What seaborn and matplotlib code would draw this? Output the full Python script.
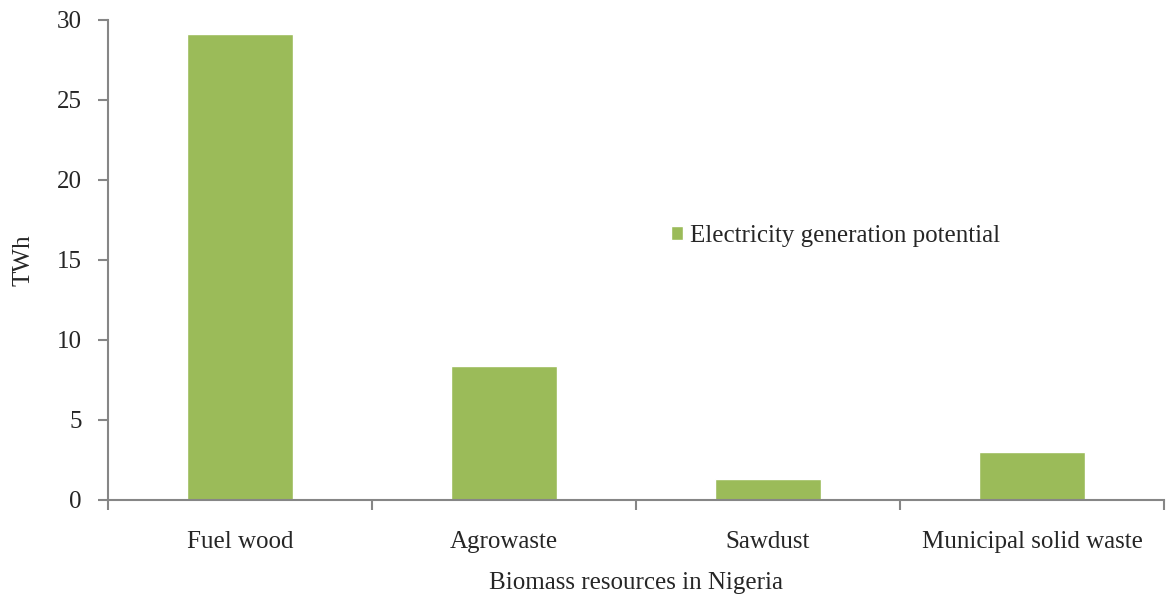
import pandas as pd
import seaborn as sns
import matplotlib.pyplot as plt
from matplotlib.ticker import FixedLocator

# Data
resources = ["Fuel wood", "Agrowaste", "Sawdust", "Municipal solid waste"]
potential_twh = [29.1, 8.4, 1.3, 3.0]
series_name = "Electricity generation potential"

df = pd.DataFrame({"Resource": resources, "TWh": potential_twh, "Series": series_name})

sns.set_style("white")
plt.rcParams["font.family"] = ["Liberation Serif", "DejaVu Serif"]

axis_grey = "#868686"
bar_green = "#9BBB59"
fs = 18

fig = plt.figure(figsize=(11.66, 5.98), dpi=100)
ax = fig.add_axes([108 / 1166, 98 / 598, 1056 / 1166, 480 / 598])

sns.barplot(data=df, x="Resource", y="TWh", hue="Series", palette=[bar_green],
            width=0.4, saturation=1, ax=ax)

ax.set_xlim(-0.5, len(resources) - 0.5)
ax.set_ylim(0, 30)
ax.set_yticks(range(0, 31, 5))

# tick marks between categories, labels centred without marks
ax.xaxis.set_minor_locator(FixedLocator([i - 0.5 for i in range(len(resources) + 1)]))
ax.tick_params(axis="x", which="major", length=0, pad=22, labelsize=fs)
ax.tick_params(axis="x", which="minor", length=7, width=1.5, color=axis_grey, direction="out")
ax.tick_params(axis="y", length=7, width=1.5, color=axis_grey, direction="out", pad=12, labelsize=fs)
ax.xaxis.set_ticks_position("bottom")
ax.yaxis.set_ticks_position("left")

for side in ["top", "right"]:
    ax.spines[side].set_visible(False)
for side in ["left", "bottom"]:
    ax.spines[side].set_color(axis_grey)
    ax.spines[side].set_linewidth(1.5)

ax.set_xlabel("Biomass resources in Nigeria", fontsize=fs, labelpad=14)
ax.set_ylabel("TWh", fontsize=fs, labelpad=16)

ax.legend(loc="center left", bbox_to_anchor=(648 / 1166, 1 - 236 / 598),
          bbox_transform=fig.transFigure, frameon=False, fontsize=fs,
          handlelength=0.5, handleheight=0.5, handletextpad=0.3)

fig.savefig("out.png", dpi=100)
